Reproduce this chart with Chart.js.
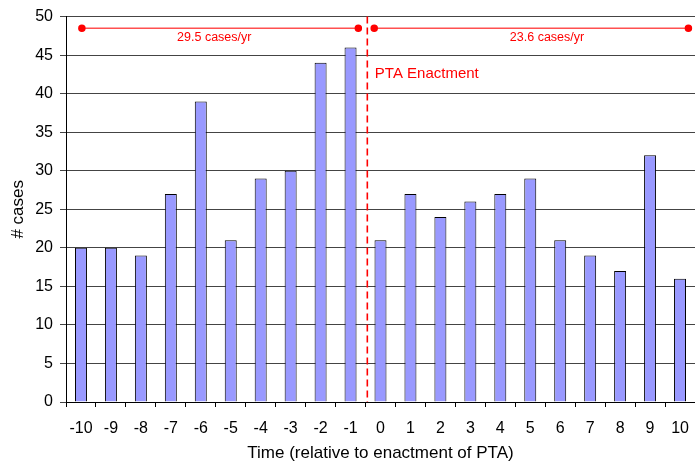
<!DOCTYPE html>
<html>
<head>
<meta charset="utf-8">
<script src="https://cdn.jsdelivr.net/npm/chart.js@4"></script>
<style>
html,body{margin:0;padding:0;background:#fff;}
#wrap{width:695px;height:467px;}
</style>
</head>
<body>
<div id="wrap"><canvas id="c" width="695" height="467"></canvas></div>
<script>
// ---- data ----
const categories = ["-10","-9","-8","-7","-6","-5","-4","-3","-2","-1","0","1","2","3","4","5","6","7","8","9","10"];
const cases = [20,20,19,27,39,21,29,30,44,46,21,27,24,26,27,29,21,19,17,32,16];
const yTicks = [0,5,10,15,20,25,30,35,40,45,50];
// rate annotation segments (in time units) and labels
const preSegment = [{x:-9.97,y:48.5},{x:-0.74,y:48.5}];
const postSegment = [{x:-0.21,y:48.5},{x:10.28,y:48.5}];
const rateLabels = ["29.5 cases/yr","23.6 cases/yr"];
const rateLabelX = [-5.55, 5.56];
const rateLabelY = 47.3;
const enactmentX = -0.44;
const enactmentLabel = "PTA Enactment";
const enactmentLabelY = 42.6;

const FONT = "'Liberation Sans', Arial, sans-serif";

const annot = {
  id:'annot',
  afterDatasetsDraw(chart){
    const ctx = chart.ctx;
    const xs = chart.scales.xl, ys = chart.scales.y;
    const area = chart.chartArea;
    ctx.save();
    const px = xs.getPixelForValue(enactmentX);
    ctx.strokeStyle = '#ff0000';
    ctx.lineWidth = 1.6;
    ctx.setLineDash([7,4]);
    ctx.beginPath();
    ctx.moveTo(px, area.top);
    ctx.lineTo(px, area.bottom);
    ctx.stroke();
    ctx.setLineDash([]);
    ctx.fillStyle = '#ff0000';
    ctx.textBaseline = 'middle';
    ctx.textAlign = 'center';
    ctx.font = '12.5px ' + FONT;
    rateLabels.forEach((t,i)=>{
      ctx.fillText(t, xs.getPixelForValue(rateLabelX[i]), ys.getPixelForValue(rateLabelY));
    });
    ctx.textAlign = 'left';
    ctx.font = '15px ' + FONT;
    ctx.fillText(enactmentLabel, px + 7.5, ys.getPixelForValue(enactmentLabelY));
    ctx.restore();
  }
};

new Chart(document.getElementById('c'), {
  type:'bar',
  data: {
    labels: categories,
    datasets: [
      {
        type:'bar', data: cases, xAxisID:'x', yAxisID:'y', grouped:false,
        backgroundColor:'#9999ff', borderColor:'#000000', borderWidth:1,
        barPercentage:0.4, categoryPercentage:1.0, order:2
      },
      {
        type:'line', data: preSegment, xAxisID:'xl', yAxisID:'y',
        borderColor:'#ff5050', borderWidth:1.5, pointRadius:3,
        pointBackgroundColor:'#ff0000', pointBorderColor:'#ff0000', order:1
      },
      {
        type:'line', data: postSegment, xAxisID:'xl', yAxisID:'y',
        borderColor:'#ff5050', borderWidth:1.5, pointRadius:3,
        pointBackgroundColor:'#ff0000', pointBorderColor:'#ff0000', order:1
      }
    ]
  },
  options: {
    responsive:false,
    animation:false,
    devicePixelRatio:1,
    layout:{autoPadding:false, padding:{top:14,right:-4,bottom:0,left:0}},
    plugins:{legend:{display:false}, tooltip:{enabled:false}},
    scales:{
      x:{
        type:'category', position:'bottom', offset:true,
        grid:{display:true, drawOnChartArea:false, offset:true, tickLength:5, color:'#000'},
        border:{color:'#000', width:1},
        ticks:{color:'#000', font:{family:FONT, size:16}, padding:12, maxRotation:0, autoSkip:false},
        title:{display:true, text:'Time (relative to enactment of PTA)', color:'#000', font:{family:FONT, size:17}, padding:{top:0,bottom:3}},
        afterFit(s){ s.height = 65; s.paddingLeft = 0; s.paddingRight = 0; }
      },
      xl:{ type:'linear', display:false, offset:false, grid:{offset:false}, min:-10.5, max:10.5 },
      y:{
        type:'linear', position:'left', min:0, max:50,
        afterBuildTicks(s){ s.ticks = yTicks.map(v=>({value:v})); },
        grid:{color:'#444', tickLength:6, lineWidth:1},
        border:{color:'#000', width:1},
        ticks:{color:'#000', font:{family:FONT, size:16}, padding:7},
        title:{display:true, text:'# cases', color:'#000', font:{family:FONT, size:17}, padding:{top:8,bottom:0}},
        afterFit(s){ s.width = 66; }
      }
    }
  },
  plugins:[annot]
});
</script>
</body>
</html>
